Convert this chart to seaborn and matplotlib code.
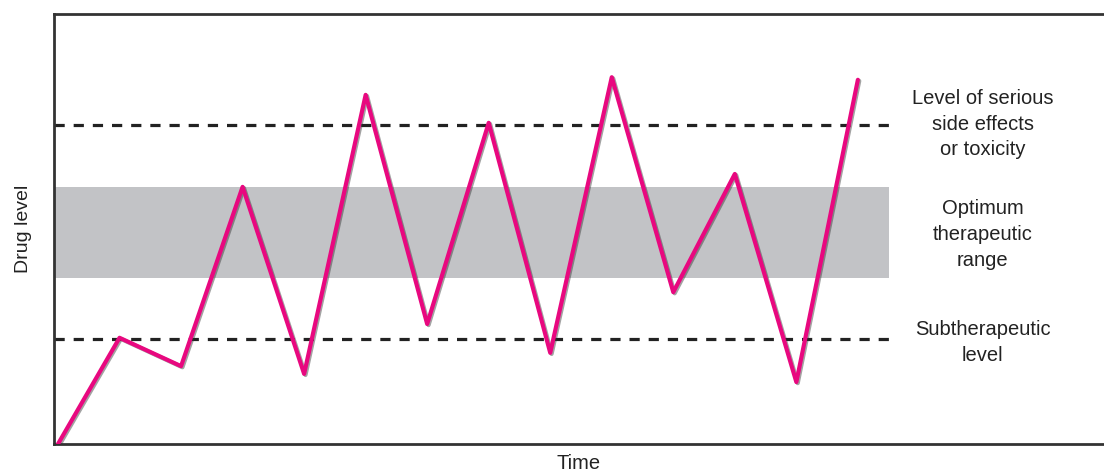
import numpy as np
import pandas as pd
import matplotlib
matplotlib.use("Agg")
import matplotlib.pyplot as plt
import matplotlib.patheffects as pe
import seaborn as sns

# data (time steps, drug level on a 0-100 scale)
time = [0, 1, 2, 3, 4, 5, 6, 7, 8, 9, 10, 11, 12, 13]
level = [0, 24.7, 18.1, 59.8, 16.3, 81.2, 27.9, 74.7, 21.2, 85.3, 35.3, 62.8, 14.4, 84.7]

toxic_level = 74.2
sub_level = 24.4
optimum_range = [38.6, 59.8]
band_end = 13.5

labels = ["Level of serious\nside effects\nor toxicity",
          "Optimum\ntherapeutic\nrange",
          "Subtherapeutic\nlevel"]
label_y = [74.4, 48.7, 23.6]

sns.set_style("white")
plt.rcParams['font.family'] = ['Liberation Sans', 'DejaVu Sans']

fig = plt.figure(figsize=(11.04, 4.71), dpi=100)
ax = fig.add_axes([54 / 1104, 27 / 471, 1 - 54 / 1104, 430 / 471])

x0 = -0.065
ax.fill_between([x0, band_end], optimum_range[0], optimum_range[1],
                color='#c2c3c6', linewidth=0, zorder=1)
ax.hlines([toxic_level, sub_level], x0, band_end, colors='#222222',
          linestyles=(0, (3.2, 2.8)), linewidth=2.3, zorder=2)

df = pd.DataFrame({'Time': time, 'Drug level': level})
sns.lineplot(data=df, x='Time', y='Drug level', ax=ax, color='#e8087f',
             linewidth=3.0, zorder=3,
             path_effects=[pe.SimpleLineShadow(offset=(1.0, -0.8), shadow_color='#333333', alpha=0.45),
                           pe.Normal()])

for txt, yy in zip(labels, label_y):
    ax.text(15.03, yy, txt, ha='center', va='center', fontsize=14.5,
            color='#222222', linespacing=1.45)

ax.set_xlim(x0, 17.0)
ax.set_ylim(0, 100)
ax.set_xticks([])
ax.set_yticks([])
ax.set_xlabel('Time', fontsize=14.5, labelpad=7, color='#222222')
ax.set_ylabel('Drug level', fontsize=14, labelpad=16, color='#222222')
for side in ['left', 'top', 'bottom']:
    ax.spines[side].set_color('#333333')
    ax.spines[side].set_linewidth(2)
ax.spines['right'].set_visible(False)

plt.savefig('out.png', dpi=100)
